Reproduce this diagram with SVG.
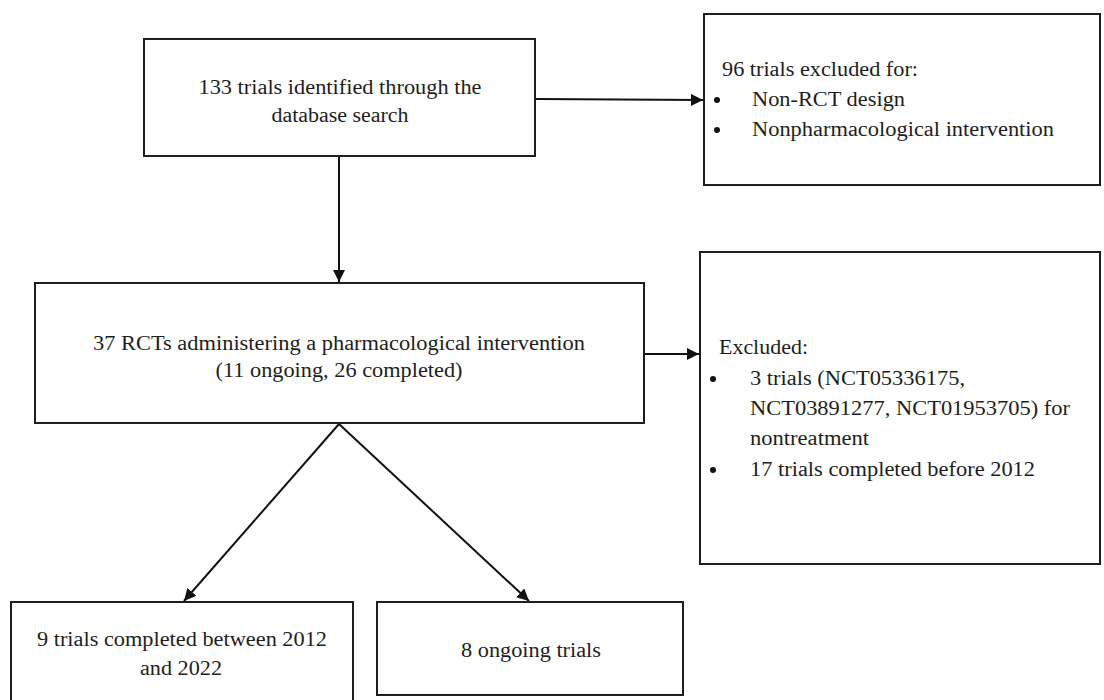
<svg xmlns="http://www.w3.org/2000/svg" width="1104" height="700" viewBox="0 0 1104 700">
<style>
  .box{fill:#ffffff;stroke:#1e1e1e;stroke-width:2}
  .t{font-family:'Liberation Serif','DejaVu Serif','Times New Roman',serif;font-size:20.5px;fill:#1e1e1e}
  .c{text-anchor:middle}
  .edge{stroke:#111;stroke-width:2;fill:none}
  .dot{fill:#111}
</style>
<defs>
  <marker id="ah" markerUnits="userSpaceOnUse" markerWidth="14" markerHeight="14" refX="12" refY="6" orient="auto">
    <path d="M0,0 L12,6 L0,12 z" fill="#111"/>
  </marker>
</defs>
<rect width="1104" height="700" fill="#ffffff"/>
<g id="connectors">
  <line class="edge" x1="536" y1="99" x2="703" y2="100" marker-end="url(#ah)"/>
  <line class="edge" x1="339" y1="157" x2="339" y2="282" marker-end="url(#ah)"/>
  <line class="edge" x1="645" y1="354" x2="699" y2="354" marker-end="url(#ah)"/>
  <line class="edge" x1="339" y1="424" x2="184" y2="601" marker-end="url(#ah)"/>
  <line class="edge" x1="339" y1="424" x2="529" y2="601" marker-end="url(#ah)"/>
</g>
<g id="identified">
  <rect class="box" x="144" y="39" width="391" height="117"/>
  <text class="t c" font-family="Liberation Serif, serif" x="340" y="94" textLength="283" lengthAdjust="spacingAndGlyphs">133 trials identified through the</text>
  <text class="t c" font-family="Liberation Serif, serif" x="340" y="122" textLength="137" lengthAdjust="spacingAndGlyphs">database search</text>
</g>
<g id="excluded1">
  <rect class="box" x="704" y="14" width="396" height="171"/>
  <text class="t" font-family="Liberation Serif, serif" x="722" y="76" textLength="196" lengthAdjust="spacingAndGlyphs">96 trials excluded for:</text>
  <circle class="dot" cx="717" cy="100" r="3"/>
  <text class="t" font-family="Liberation Serif, serif" x="752" y="106" textLength="153" lengthAdjust="spacingAndGlyphs">Non-RCT design</text>
  <circle class="dot" cx="717" cy="130" r="3"/>
  <text class="t" font-family="Liberation Serif, serif" x="752" y="136" textLength="302" lengthAdjust="spacingAndGlyphs">Nonpharmacological intervention</text>
</g>
<g id="rcts">
  <rect class="box" x="35" y="283" width="609" height="140"/>
  <text class="t c" font-family="Liberation Serif, serif" x="339" y="350" textLength="492" lengthAdjust="spacingAndGlyphs">37 RCTs administering a pharmacological intervention</text>
  <text class="t c" font-family="Liberation Serif, serif" x="339" y="377" textLength="247" lengthAdjust="spacingAndGlyphs">(11 ongoing, 26 completed)</text>
</g>
<g id="excluded2">
  <rect class="box" x="700" y="252" width="400" height="312"/>
  <text class="t" font-family="Liberation Serif, serif" x="719" y="354" textLength="89" lengthAdjust="spacingAndGlyphs">Excluded:</text>
  <circle class="dot" cx="713" cy="379" r="3"/>
  <text class="t" font-family="Liberation Serif, serif" x="750" y="385" textLength="215" lengthAdjust="spacingAndGlyphs">3 trials (NCT05336175,</text>
  <text class="t" font-family="Liberation Serif, serif" x="750" y="415" textLength="320" lengthAdjust="spacingAndGlyphs">NCT03891277, NCT01953705) for</text>
  <text class="t" font-family="Liberation Serif, serif" x="750" y="445" textLength="119" lengthAdjust="spacingAndGlyphs">nontreatment</text>
  <circle class="dot" cx="713" cy="470" r="3"/>
  <text class="t" font-family="Liberation Serif, serif" x="750" y="476" textLength="285" lengthAdjust="spacingAndGlyphs">17 trials completed before 2012</text>
</g>
<g id="completed">
  <rect class="box" x="11" y="602" width="342" height="102"/>
  <text class="t c" font-family="Liberation Serif, serif" x="182" y="646" textLength="290" lengthAdjust="spacingAndGlyphs">9 trials completed between 2012</text>
  <text class="t c" font-family="Liberation Serif, serif" x="181" y="675" textLength="82" lengthAdjust="spacingAndGlyphs">and 2022</text>
</g>
<g id="ongoing">
  <rect class="box" x="377" y="602" width="306" height="93"/>
  <text class="t c" font-family="Liberation Serif, serif" x="531" y="657" textLength="140" lengthAdjust="spacingAndGlyphs">8 ongoing trials</text>
</g>
</svg>
